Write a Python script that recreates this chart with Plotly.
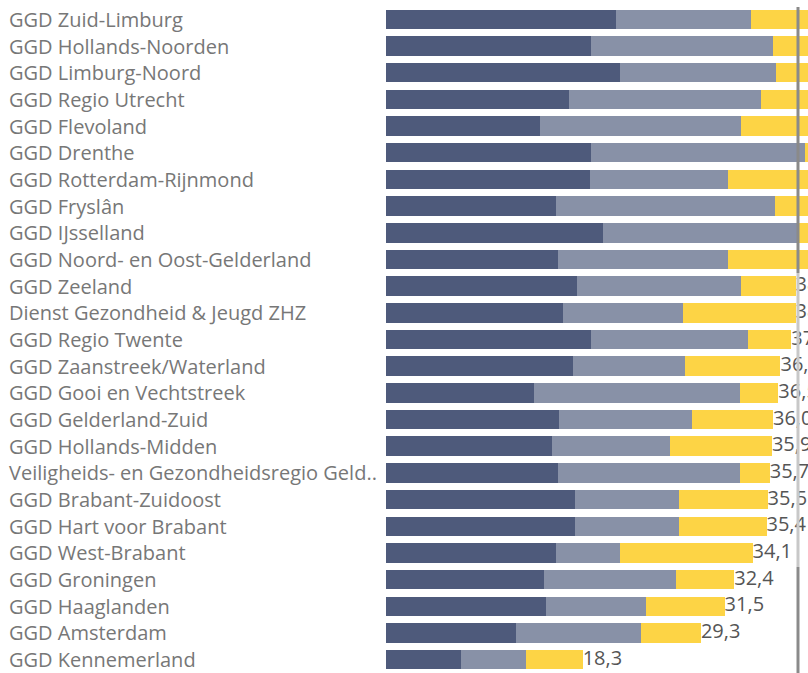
import plotly.graph_objects as go

categories = [
    "GGD Zuid-Limburg",
    "GGD Hollands-Noorden",
    "GGD Limburg-Noord",
    "GGD Regio Utrecht",
    "GGD Flevoland",
    "GGD Drenthe",
    "GGD Rotterdam-Rijnmond",
    "GGD Fryslân",
    "GGD IJsselland",
    "GGD Noord- en Oost-Gelderland",
    "GGD Zeeland",
    "Dienst Gezondheid & Jeugd ZHZ",
    "GGD Regio Twente",
    "GGD Zaanstreek/Waterland",
    "GGD Gooi en Vechtstreek",
    "GGD Gelderland-Zuid",
    "GGD Hollands-Midden",
    "Veiligheids- en Gezondheidsregio Gelderland-Midden",
    "GGD Brabant-Zuidoost",
    "GGD Hart voor Brabant",
    "GGD West-Brabant",
    "GGD Groningen",
    "GGD Haaglanden",
    "GGD Amsterdam",
    "GGD Kennemerland",
]

tick_labels = [
    "GGD Zuid-Limburg",
    "GGD Hollands-Noorden",
    "GGD Limburg-Noord",
    "GGD Regio Utrecht",
    "GGD Flevoland",
    "GGD Drenthe",
    "GGD Rotterdam-Rijnmond",
    "GGD Fryslân",
    "GGD IJsselland",
    "GGD Noord- en Oost-Gelderland",
    "GGD Zeeland",
    "Dienst Gezondheid & Jeugd ZHZ",
    "GGD Regio Twente",
    "GGD Zaanstreek/Waterland",
    "GGD Gooi en Vechtstreek",
    "GGD Gelderland-Zuid",
    "GGD Hollands-Midden",
    "Veiligheids- en Gezondheidsregio Geld..",
    "GGD Brabant-Zuidoost",
    "GGD Hart voor Brabant",
    "GGD West-Brabant",
    "GGD Groningen",
    "GGD Haaglanden",
    "GGD Amsterdam",
    "GGD Kennemerland",
]

dark = [21.4, 19.1, 21.8, 17.0, 14.3, 19.1, 19.0, 15.8, 20.2, 16.0,
        17.8, 16.5, 19.1, 17.4, 13.8, 16.1, 15.4, 16.0, 17.6, 17.6,
        15.8, 14.7, 14.9, 12.1, 7.0]
gray = [12.6, 16.9, 14.5, 17.9, 18.7, 19.9, 12.8, 20.4, 18.2, 15.8,
        15.2, 11.1, 14.6, 10.4, 19.1, 12.4, 11.0, 16.9, 9.7, 9.7,
        6.0, 12.3, 9.3, 11.6, 6.0]
yellow = [8.5, 5.9, 5.1, 6.0, 7.5, 1.2, 8.0, 3.4, 1.0, 7.5,
          5.1, 10.5, 4.0, 8.9, 3.6, 7.5, 9.5, 2.8, 8.2, 8.1,
          12.3, 5.4, 7.3, 5.6, 5.3]

totals = [round(a + b + c, 1) for a, b, c in zip(dark, gray, yellow)]
total_text = [f"{t:.1f}".replace(".", ",") for t in totals]

C_DARK = "#4e5a7b"
C_GRAY = "#8891a7"
C_YELLOW = "#fdd445"

fig = go.Figure()
for vals, col in ((dark, C_DARK), (gray, C_GRAY), (yellow, C_YELLOW)):
    fig.add_trace(go.Bar(
        x=vals, y=categories, orientation="h",
        marker=dict(color=col, line=dict(width=0)),
        hoverinfo="skip", showlegend=False,
    ))

fig.add_trace(go.Scatter(
    x=totals, y=categories, mode="text", text=total_text,
    textposition="middle right",
    textfont=dict(family="Open Sans", size=20, color="#555555"),
    cliponaxis=True, showlegend=False, hoverinfo="skip",
))

for cat, lab in zip(categories, tick_labels):
    fig.add_annotation(
        x=(7 - 386) / 422.0, xref="paper", y=cat, yref="y",
        text=lab, showarrow=False, xanchor="left", yanchor="middle",
        font=dict(family="Open Sans", size=20, color="#777777"),
    )

# scrollbar-like vertical line on the right
def py(p):
    return (673 - p) / 667.0

xl = (798 - 386) / 422.0
for y0, y1, col in ((7, 273, "#8a8a8a"), (273, 567, "#c8c8c8"), (567, 673, "#8a8a8a")):
    fig.add_shape(type="line", xref="paper", yref="paper",
                  x0=xl, x1=xl, y0=py(y0), y1=py(y1),
                  line=dict(color=col, width=3), layer="above")

fig.update_layout(
    width=808, height=673,
    margin=dict(l=386, r=0, t=6, b=0),
    barmode="stack", bargap=0.27,
    plot_bgcolor="white", paper_bgcolor="white",
    xaxis=dict(range=[0, 39.26], showgrid=False, zeroline=False,
               showticklabels=False, ticks="", showline=False, fixedrange=True),
    yaxis=dict(categoryorder="array", categoryarray=categories,
               range=[24.5, -0.5], showgrid=False, zeroline=False,
               showticklabels=False, ticks="", showline=False, fixedrange=True),
)

fig.write_html(
    "out.html",
    config={"displayModeBar": False},
    post_script="document.body.style.margin='0px';document.body.style.overflow='hidden';",
)
